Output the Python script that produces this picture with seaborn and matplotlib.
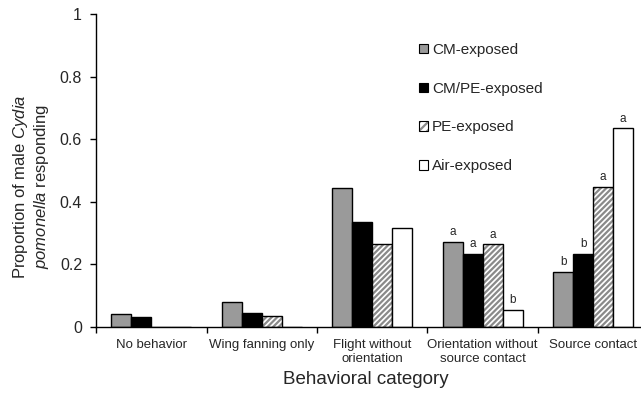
import numpy as np
import pandas as pd
import matplotlib
matplotlib.use("Agg")
import matplotlib.pyplot as plt
import seaborn as sns
from matplotlib.patches import Patch
from matplotlib.colors import to_rgba
from matplotlib.ticker import FixedLocator

categories = ["No behavior", "Wing fanning only", "Flight without\norientation",
              "Orientation without\nsource contact", "Source contact"]
series = ["CM-exposed", "CM/PE-exposed", "PE-exposed", "Air-exposed"]
cm_exposed = [0.040, 0.079, 0.445, 0.271, 0.175]
cmpe_exposed = [0.030, 0.043, 0.336, 0.232, 0.232]
pe_exposed = [0.0, 0.034, 0.263, 0.263, 0.446]
air_exposed = [0.0, 0.0, 0.317, 0.054, 0.634]
letters_cm = ["", "", "", "a", "b"]
letters_cmpe = ["", "", "", "a", "b"]
letters_pe = ["", "", "", "a", "a"]
letters_air = ["", "", "", "b", "a"]
y_ticks = [0, 0.2, 0.4, 0.6, 0.8, 1.0]
y_tick_labels = ["0", "0.2", "0.4", "0.6", "0.8", "1"]

values = [cm_exposed, cmpe_exposed, pe_exposed, air_exposed]
letters = [letters_cm, letters_cmpe, letters_pe, letters_air]

rows = []
for s, vals in zip(series, values):
    for c, v in zip(categories, vals):
        rows.append({"category": c, "series": s, "value": v})
df = pd.DataFrame(rows)

sns.set_style("ticks")
plt.rcParams["font.family"] = ["Liberation Sans", "DejaVu Sans"]
plt.rcParams["mathtext.fontset"] = "custom"
plt.rcParams["mathtext.rm"] = "Liberation Sans"
plt.rcParams["mathtext.it"] = "Liberation Sans:italic"
plt.rcParams["hatch.linewidth"] = 1.6

fills = ["#9a9a9a", "#000000", "#ffffff", "#ffffff"]
palette = dict(zip(series, fills))

fig = plt.figure(figsize=(6.41, 3.94), dpi=100)
W, H = 641, 394
x0, y0, ytop = 96, 326.7, 14
ax = fig.add_axes([x0 / W, 1 - y0 / H, (W - x0) / W, (y0 - ytop) / H])

sns.barplot(data=df, x="category", y="value", hue="series", order=categories,
            hue_order=series, palette=palette, width=0.72, edgecolor="black",
            linewidth=1.0, saturation=1, ax=ax, legend=False, errorbar=None)

# hatch PE bars
for bar in ax.containers[2]:
    bar.set_hatch("//////")
    bar._hatch_color = to_rgba("#8a8a8a")

# letters
for cont, lets in zip(ax.containers, letters):
    for bar, lt in zip(cont, lets):
        if lt:
            ax.text(bar.get_x() + bar.get_width() / 2, bar.get_height() + 0.012, lt,
                    ha="center", va="bottom", fontsize=8.5)

cat_w = 110.5
ax.set_xlim(-0.5, -0.5 + (W - x0) / cat_w)
ax.set_ylim(0, 1)
ax.set_yticks(y_ticks)
ax.set_yticklabels(y_tick_labels, fontsize=11.5)
ax.tick_params(axis="y", direction="out", length=4, width=1, color="black", pad=6)
ax.set_xticks(range(len(categories)))
ax.set_xticklabels(categories, fontsize=9.5)
ax.tick_params(axis="x", which="major", length=0, pad=9)
ax.xaxis.set_minor_locator(FixedLocator([i - 0.5 for i in range(len(categories) + 1)]))
ax.tick_params(axis="x", which="minor", direction="out", length=4, width=1, color="black")

for side in ["top", "right"]:
    ax.spines[side].set_visible(False)
for side in ["left", "bottom"]:
    ax.spines[side].set_color("black")
    ax.spines[side].set_linewidth(1.0)

ax.set_ylabel("Proportion of male $\\mathit{Cydia}$\n$\\mathit{pomonella}$ responding",
              fontsize=12, linespacing=1.1)
ax.yaxis.set_label_coords(-0.083, 0.447)
ax.set_xlabel("Behavioral category", fontsize=13.5)
ax.xaxis.set_label_coords(0.495, -0.143)

handles = [Patch(facecolor=fills[i], edgecolor="black", linewidth=0.8,
                 hatch="////" if i == 2 else None) for i in range(4)]
leg = ax.legend(handles, series, loc="upper left", bbox_to_anchor=(419 / W, 1 - 43 / H),
                bbox_transform=fig.transFigure, frameon=False, fontsize=11,
                handlelength=0.6, handleheight=0.6, handletextpad=0.25,
                labelspacing=1.62, borderpad=0, borderaxespad=0)
for p in leg.get_patches():
    if p.get_hatch():
        p._hatch_color = to_rgba("#8a8a8a")

fig.savefig("out.png", dpi=100)
